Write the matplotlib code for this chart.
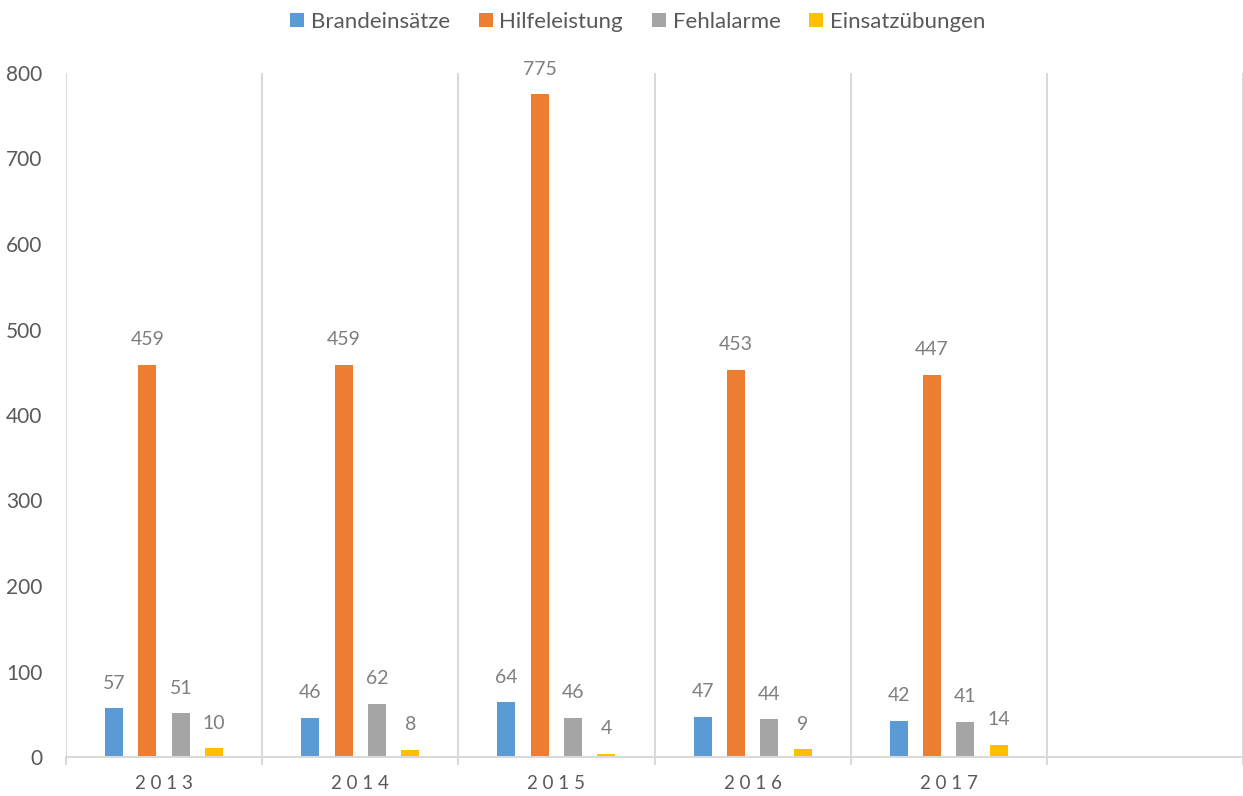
import numpy as np
import matplotlib.pyplot as plt

plt.rcParams['font.family'] = ['Lato', 'DejaVu Sans']

years = ["2013", "2014", "2015", "2016", "2017"]
series = ["Brandeinsätze", "Hilfeleistung", "Fehlalarme", "Einsatzübungen"]
brand = [57, 46, 64, 47, 42]
hilfe = [459, 459, 775, 453, 447]
fehl = [51, 62, 46, 44, 41]
uebung = [10, 8, 4, 9, 14]
colors = ["#5B9BD5", "#ED7D31", "#A5A5A5", "#FFC000"]

fig = plt.figure(figsize=(12.43, 7.96), dpi=100)
ax = fig.add_axes([66/1243, 39/796, 1 - 66/1243, 684/796])

x = np.arange(len(years))
step = 0.170
width = 0.0915
for i, (name, vals) in enumerate(zip(series, [brand, hilfe, fehl, uebung])):
    pos = x + (i - 1.5) * step
    ax.bar(pos, vals, width, color=colors[i], label=name, zorder=3)
    for p, v in zip(pos, vals):
        ax.annotate(str(v), (p, v), xytext=(0, 12), textcoords="offset points",
                    ha="center", va="bottom", fontsize=14, color="#7F7F7F")

ax.set_xlim(-0.5, -0.5 + 1177/196.75)
ax.set_ylim(0, 800)
ax.set_yticks(np.arange(0, 801, 100))
ax.tick_params(axis="y", length=0, pad=17, labelsize=15, labelcolor="#595959")

ax.set_xticks(x)
ax.set_xticklabels([" ".join(y) for y in years], fontsize=13.5, color="#595959")
ax.tick_params(axis="x", which="major", length=0, pad=13)
ax.set_xticks(np.arange(-0.5, 6.0, 1.0), minor=True)
ax.tick_params(axis="x", which="minor", length=6, width=1.5, color="#D9D9D9")
ax.grid(axis="x", which="minor", color="#D9D9D9", linewidth=1.5, zorder=0)

for s in ["top", "right", "left"]:
    ax.spines[s].set_visible(False)
ax.spines["bottom"].set_color("#D9D9D9")
ax.spines["bottom"].set_linewidth(1.5)
ax.spines["bottom"].set_zorder(4)

fig.legend(loc="center", bbox_to_anchor=(0.513, 1 - 22/796), ncol=4, frameon=False,
           fontsize=16, labelcolor="#595959", handlelength=0.63, handleheight=0.6,
           handletextpad=0.3, columnspacing=1.3)

fig.savefig("out.png", dpi=100)
